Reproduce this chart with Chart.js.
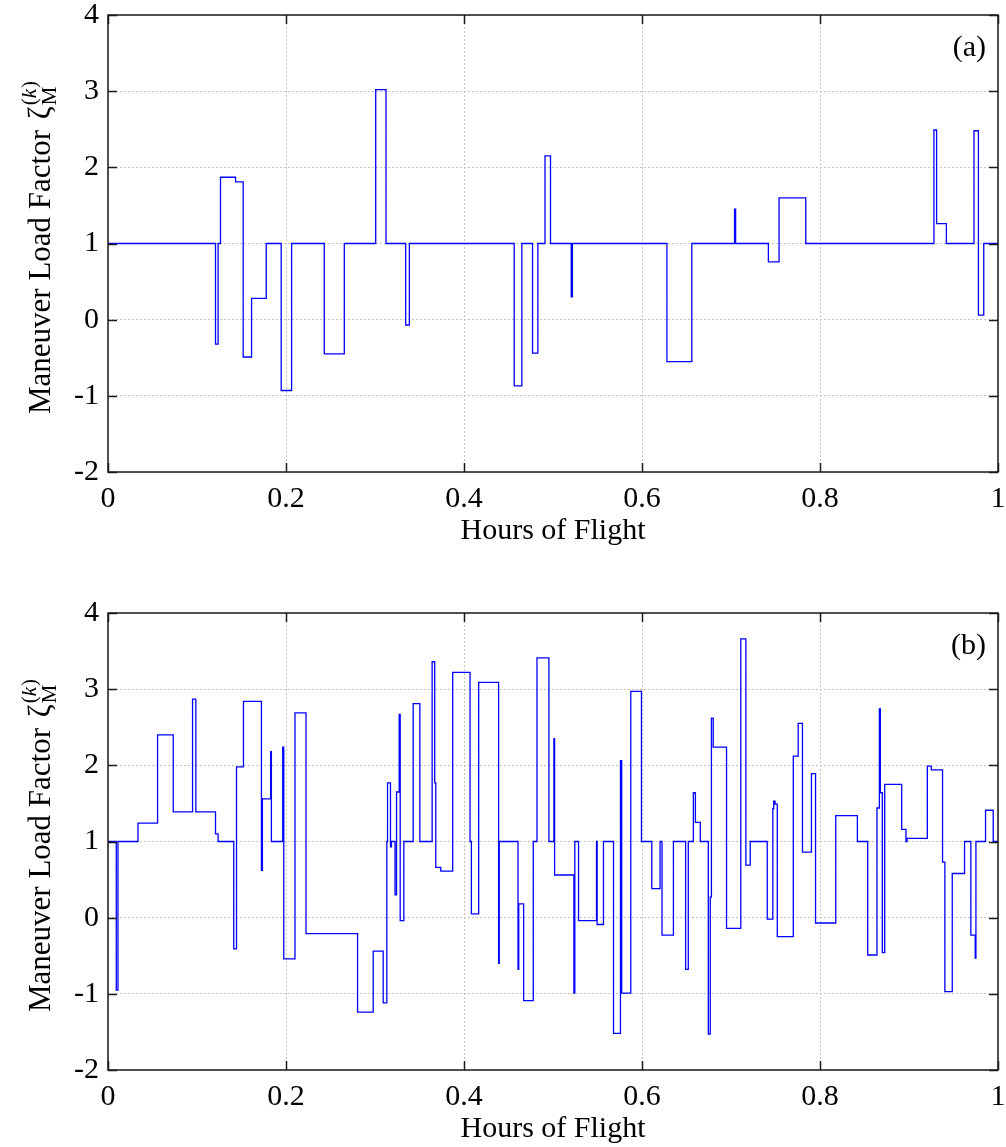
<!DOCTYPE html>
<html>
<head>
<meta charset="utf-8">
<script src="https://cdn.jsdelivr.net/npm/chart.js@4.4.1/dist/chart.umd.min.js"></script>
<style>
  html, body { margin: 0; padding: 0; background: #fff; overflow: hidden; }
  .panel { position: absolute; left: 0; width: 1006px; height: 573px; }
</style>
</head>
<body>
<div class="panel" style="top:0"><canvas id="chartA" width="1006" height="573"></canvas></div>
<div class="panel" style="top:598px"><canvas id="chartB" width="1006" height="573"></canvas></div>
<script>
// Panel (a): start time of each step (hours) and the load factor held until the next step
const aStart = [0, 0.1208, 0.1237, 0.1264, 0.1433, 0.1519, 0.1613, 0.1778, 0.1946, 0.2063,
  0.243, 0.2655, 0.3008, 0.3124, 0.3345, 0.3386, 0.4564, 0.465, 0.477, 0.483,
  0.491, 0.4972, 0.5205, 0.5218, 0.628, 0.656, 0.704, 0.7052, 0.742, 0.754,
  0.784, 0.928, 0.931, 0.942, 0.973, 0.978, 0.984];
const aValue = [1, -0.32, 1, 1.87, 1.81, -0.49, 0.28, 1, -0.93, 1,
  -0.45, 1, 3.02, 1, -0.07, 1, -0.87, 1, -0.44, 1,
  2.15, 1, 0.30, 1, -0.55, 1, 1.45, 1, 0.76, 1.6,
  1, 2.49, 1.26, 1, 2.48, 0.06, 1];

// Panel (b)
const bStart = [0, 0.0093, 0.0112, 0.0337, 0.0557, 0.0733, 0.095, 0.0987, 0.1208, 0.1237,
  0.1413, 0.1444, 0.1522, 0.1724, 0.1735, 0.1828, 0.1836, 0.1963, 0.1975, 0.2101,
  0.2225, 0.2804, 0.298, 0.3092, 0.3133, 0.3141, 0.3174, 0.3185, 0.3225, 0.3242,
  0.3272, 0.3283, 0.3324, 0.3429, 0.3504, 0.3642, 0.3671, 0.3683, 0.3739, 0.3873,
  0.4068, 0.4083, 0.4165, 0.4389, 0.4396, 0.4607, 0.4615, 0.467, 0.4778, 0.482,
  0.4954, 0.501, 0.5018, 0.5235, 0.5245, 0.5287, 0.5489, 0.5496, 0.5567, 0.568,
  0.5758, 0.5772, 0.5874, 0.5994, 0.611, 0.6203, 0.6225, 0.6353, 0.649, 0.652,
  0.6577, 0.660, 0.6655, 0.6745, 0.6767, 0.678, 0.680, 0.695, 0.711, 0.7167,
  0.7216, 0.7407, 0.747, 0.748, 0.7495, 0.752, 0.770, 0.7755, 0.7803, 0.7904,
  0.795, 0.8177, 0.842, 0.8536, 0.864, 0.8667, 0.8678, 0.870, 0.8727, 0.8918,
  0.8966, 0.8978, 0.9206, 0.925, 0.9377, 0.9403, 0.9486, 0.9624, 0.9695, 0.9744,
  0.9752, 0.986, 0.9946];
const bValue = [1, -0.95, 1, 1.24, 2.40, 1.39, 2.87, 1.39, 1.10, 1,
  -0.41, 1.98, 2.84, 0.62, 1.56, 2.18, 1, 2.24, -0.54, 2.69,
  -0.21, -1.24, -0.44, -1.12, 1, 1.77, 0.93, 1, 0.30, 1.65,
  2.67, -0.04, 1, 2.81, 1, 3.36, 1.77, 0.66, 0.61, 3.22,
  1, 0.05, 3.09, -0.6, 1, -0.68, 0.18, -1.09, 1, 3.41,
  1, 2.35, 0.56, -0.99, 1, -0.04, 1, -0.09, 1, -1.52,
  2.06, -0.99, 2.97, 1, 0.38, 1, -0.23, 1, -0.68, 1,
  1.64, 1.25, 1, -1.53, 0.27, 2.62, 2.24, -0.14, 3.66, 0.69,
  1, -0.02, 1.43, 1.53, 1.49, -0.25, 2.12, 2.55, 0.86, 1.89,
  -0.07, 1.34, 1, -0.49, 1.44, 2.74, 1.64, -0.46, 1.75, 1.16,
  1, 1.04, 1.99, 1.94, 0.73, -0.97, 0.58, 1, -0.23, -0.53,
  1, 1.41, 1];

const xTicks = [0, 0.2, 0.4, 0.6, 0.8, 1];
const yTicks = [-2, -1, 0, 1, 2, 3, 4];

const serif = '"Liberation Serif", "Times New Roman", serif';

// Turn step starts + values into points, closing the last step at x = 1
function stepPoints(starts, values) {
  const pts = starts.map((x, i) => ({ x: x, y: values[i] }));
  pts.push({ x: 1, y: values[values.length - 1] });
  return pts;
}

// Box, inward tick marks, panel tag and the y-axis label with the zeta symbol
const framePlugin = {
  id: 'frame',
  afterDraw(chart, args, opts) {
    const ctx = chart.ctx;
    const a = chart.chartArea;
    const xs = chart.scales.x;
    const ys = chart.scales.y;
    ctx.save();
    ctx.strokeStyle = '#1a1a1a';
    ctx.lineWidth = 1.5;
    ctx.strokeRect(a.left, a.top, a.right - a.left, a.bottom - a.top);

    ctx.beginPath();
    xTicks.forEach(v => {
      const px = Math.round(xs.getPixelForValue(v)) + 0.5;
      ctx.moveTo(px, a.bottom); ctx.lineTo(px, a.bottom - 9);
      ctx.moveTo(px, a.top); ctx.lineTo(px, a.top + 9);
    });
    yTicks.forEach(v => {
      const py = Math.round(ys.getPixelForValue(v)) + 0.5;
      ctx.moveTo(a.left, py); ctx.lineTo(a.left + 9, py);
      ctx.moveTo(a.right, py); ctx.lineTo(a.right - 9, py);
    });
    ctx.stroke();

    // panel tag
    ctx.fillStyle = '#000';
    ctx.font = '30px ' + serif;
    ctx.textAlign = 'right';
    ctx.textBaseline = 'alphabetic';
    ctx.fillText(opts.tag, a.right - 12, a.top + 41);

    // y-axis label, rotated
    ctx.translate(50, a.bottom - 58);
    ctx.rotate(-Math.PI / 2);
    ctx.textAlign = 'left';
    ctx.font = '31px ' + serif;
    const main = 'Maneuver Load Factor ';
    ctx.fillText(main, 0, 0);
    let x = ctx.measureText(main).width + 3;
    ctx.fillText('\u03B6', x, 0);
    x += ctx.measureText('\u03B6').width + 1;
    ctx.font = '21px ' + serif;
    ctx.fillText('M', x, 6);
    let sx = x;
    ctx.fillText('(', sx, -14);
    sx += ctx.measureText('(').width;
    ctx.font = 'italic 21px ' + serif;
    ctx.fillText('k', sx, -14);
    sx += ctx.measureText('k').width + 1;
    ctx.font = '21px ' + serif;
    ctx.fillText(')', sx, -14);
    ctx.restore();
  }
};

function makeChart(id, starts, values, tag) {
  const ctx = document.getElementById(id).getContext('2d');
  return new Chart(ctx, {
    type: 'line',
    data: {
      datasets: [{
        data: stepPoints(starts, values),
        borderColor: '#0000ff',
        borderWidth: 1.3,
        pointRadius: 0,
        fill: false,
        stepped: 'before'
      }]
    },
    options: {
      responsive: false,
      animation: false,
      devicePixelRatio: 1,
      layout: { padding: { top: 15, right: 8, left: 0, bottom: 0 } },
      scales: {
        x: {
          type: 'linear',
          min: 0,
          max: 1,
          afterBuildTicks: s => { s.ticks = xTicks.map(v => ({ value: v })); },
          afterFit: s => { s.height = 101; s.paddingLeft = 0; s.paddingRight = 0; },
          ticks: {
            color: '#000',
            font: { family: serif, size: 30, lineHeight: 1 },
            padding: 12,
            maxRotation: 0,
            callback: v => String(+v.toFixed(1))
          },
          grid: { color: '#c4c4c4', lineWidth: 1, drawTicks: false },
          border: { display: false, dash: [2, 2] },
          title: {
            display: true,
            text: 'Hours of Flight',
            color: '#000',
            font: { family: serif, size: 30, lineHeight: 1 },
            padding: { top: 0, bottom: 27 }
          }
        },
        y: {
          min: -2,
          max: 4,
          afterBuildTicks: s => { s.ticks = yTicks.map(v => ({ value: v })); },
          afterFit: s => { s.width = 108; s.paddingTop = 0; s.paddingBottom = 0; },
          ticks: {
            color: '#000',
            font: { family: serif, size: 30, lineHeight: 1 },
            padding: 9
          },
          grid: { color: '#c4c4c4', lineWidth: 1, drawTicks: false },
          border: { display: false, dash: [2, 2] }
        }
      },
      plugins: {
        legend: { display: false },
        tooltip: { enabled: false },
        frame: { tag: tag }
      }
    },
    plugins: [framePlugin]
  });
}

makeChart('chartA', aStart, aValue, '(a)');
makeChart('chartB', bStart, bValue, '(b)');
</script>
</body>
</html>
